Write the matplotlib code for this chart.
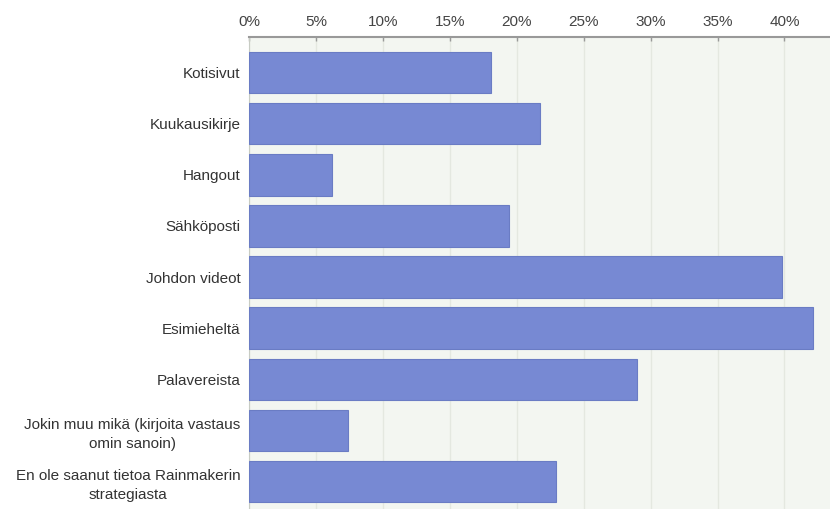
import matplotlib.pyplot as plt
from matplotlib.ticker import MultipleLocator, FuncFormatter

# answer options, top to bottom
categories = [
    "Kotisivut",
    "Kuukausikirje",
    "Hangout",
    "Sähköposti",
    "Johdon videot",
    "Esimieheltä",
    "Palavereista",
    "Jokin muu mikä (kirjoita vastaus\nomin sanoin)",
    "En ole saanut tietoa Rainmakerin\nstrategiasta",
]
# share of respondents, percent
shares = [18.1, 21.7, 6.2, 19.4, 39.8, 42.1, 29.0, 7.4, 22.9]

plt.rcParams['font.family'] = ['Liberation Sans', 'DejaVu Sans']

fig = plt.figure(figsize=(8.3, 5.09), dpi=100)
ax = fig.add_axes([0.3, 0.0, 0.7, 0.927])
ax.set_facecolor('#f3f6f1')

pos = list(range(len(categories)))
ax.barh(pos, shares, height=0.81, color='#7789d3', edgecolor='#6a7cc4',
        linewidth=0.8, zorder=3)

ax.set_xlim(0, 43.4)
ax.set_ylim(len(categories) - 1 + 0.54, -0.695)

# percent axis on top
ax.xaxis.tick_top()
ax.xaxis.set_major_locator(MultipleLocator(5))
ax.xaxis.set_major_formatter(FuncFormatter(lambda v, p: f"{v:.0f}%"))
ax.tick_params(axis='x', direction='in', length=3, width=1, color='#999999',
               labelsize=11, labelcolor='#444444', pad=6)
ax.grid(axis='x', color='#e4e8e0', linewidth=1, zorder=0)

ax.set_yticks(pos)
ax.set_yticklabels(categories, multialignment='center', linespacing=1.45)
ax.tick_params(axis='y', length=0, labelsize=11, labelcolor='#333333', pad=6)

for side in ['right', 'bottom']:
    ax.spines[side].set_visible(False)
ax.spines['top'].set_color('#999999')
ax.spines['top'].set_linewidth(1.5)
ax.spines['left'].set_color('#c8ccc4')

plt.savefig('out.png', dpi=100)
